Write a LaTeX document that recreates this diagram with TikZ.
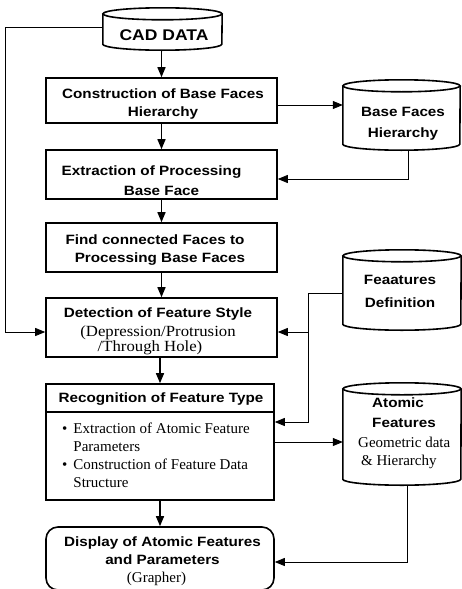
\documentclass[tikz,border=0pt]{standalone}
\usepackage{fontspec}
\setmainfont{Liberation Serif}
\newfontfamily\hvb[FakeStretch=1.13]{Liberation Sans Bold}
\newfontfamily\tmsw[FakeStretch=1.08]{Liberation Serif}
\usetikzlibrary{arrows.meta}

% bold sans heading text and serif detail text
\newcommand\bsf{\hvb\fontsize{13.5}{18}\selectfont}
\newcommand\rmt{\rmfamily\fontsize{15}{18}\selectfont}
\newcommand\rmw{\tmsw\fontsize{15.5}{14}\selectfont}

% storage drum drawn around an empty node: #1 node, #2 half width, #3 ellipse radius
\newcommand\drum[3]{%
  \draw[drumline] ([yshift=-#3]#1.north west) -- ([yshift=#3]#1.south west)
     arc[start angle=180, end angle=360, x radius=#2, y radius=#3]
     -- ([yshift=-#3]#1.north east);
  \draw[drumline] ([yshift=-#3]#1.north) ellipse[x radius=#2, y radius=#3];}

\tikzset{
  box/.style={draw, line width=1.6pt, inner sep=0pt, minimum width=231pt},
  store/.style={draw=none, inner sep=0pt},
  drumline/.style={line width=1.6pt},
  txt/.style={inner sep=0pt, anchor=north, align=center},
  flow/.style={line width=1.5pt, -{Triangle[length=10pt,width=8pt]}},
  link/.style={line width=0.8pt, -{Triangle[length=10pt,width=8pt]}},
}

\begin{document}
\begin{tikzpicture}[x=1pt, y=-1pt]
\path[fill=white] (0,0) rectangle (462,589);
\useasboundingbox (0,0) rectangle (462,589);

% process boxes
\node[box, minimum height=45pt] (cons)  at (161.5,100.5) {};
\node[box, minimum height=49pt] (extr)  at (161.5,174.5) {};
\node[box, minimum height=49pt] (find)  at (161.5,247.5) {};
\node[box, minimum height=59pt] (det)   at (161.5,327.5) {};
\node[box, minimum width=228pt, minimum height=116pt] (recog) at (160,442) {};
\draw[line width=1.6pt] ([yshift=-29pt]recog.north west) -- ([yshift=-29pt]recog.north east);
\node[box, minimum width=228pt, minimum height=63pt, rounded corners=12pt] (disp) at (160,558.5) {};

% data stores
\node[store, minimum width=119pt, minimum height=42pt]  (cad)  at (162.5,29) {};
\node[store, minimum width=117pt, minimum height=70pt]  (bfh)  at (401.5,115) {};
\node[store, minimum width=118pt, minimum height=80pt]  (fdef) at (402,290) {};
\node[store, minimum width=118pt, minimum height=102pt] (atom) at (402,434) {};
\drum{cad}{59.5pt}{6pt}
\drum{bfh}{58.5pt}{6pt}
\drum{fdef}{59pt}{6pt}
\drum{atom}{59pt}{6pt}

% texts
\node[txt, font=\hvb\fontsize{15.5}{18}\selectfont] (cadT) at (164,29.5) {CAD DATA};
\node[txt, font=\bsf] (consT) at (163,89) {Construction of Base Faces\\Hierarchy};
\node[txt, font=\hvb\fontsize{13.5}{20}\selectfont] (extrT) at (161.5,166) {Extraction of Processing\hspace*{20pt}\\Base Face};
\node[txt, font=\hvb\fontsize{13.5}{17.5}\selectfont] (findT) at (160,235) {Find connected Faces to\hspace*{10pt}\\Processing Base Faces};
\node[txt, font=\hvb\fontsize{13.5}{18}\selectfont] (detT) at (158,308)
  {Detection of Feature Style\\[1pt]{\rmw (Depression/Protrusion\hspace*{18pt}}\\[-3.5pt]{\rmw /Through Hole)\hspace*{16pt}}};
\node[txt, font=\bsf] (recogT) at (161,393) {Recognition of Feature Type};
\node[inner sep=0pt, anchor=north west, font=\rmt] (recogL) at (62,421)
  {\begin{tabular}{@{}l@{\hspace{6pt}}l@{}}
   \textbullet & Extraction of Atomic Feature\\
               & Parameters\\
   \textbullet & Construction of Feature Data\\
               & Structure
   \end{tabular}};
\node[txt, font=\bsf] (dispT) at (162.5,537) {Display of Atomic Features\\and Parameters\\{\rmt (Grapher)\hspace*{12pt}}};
\node[txt, font=\hvb\fontsize{13.5}{21}\selectfont] (bfhT) at (403,107) {Base Faces\\Hierarchy};
\node[txt, font=\hvb\fontsize{13.5}{23}\selectfont] (fdefT) at (400,275) {Feaatures\\Definition};
\node[inner sep=0pt, anchor=north west, align=left, font=\hvb\fontsize{13.5}{20}\selectfont] (atomT) at (358,398)
  {\hspace*{14pt}Atomic\\\hspace*{14pt}Features\\{\rmt Geometric data}\\[-2pt]{\rmt\hspace*{3pt}\& Hierarchy}};

% main flow
\draw[flow] (cons.north |- cad.south) -- (cons.north);
\draw[flow] (cons.south) -- (extr.north);
\draw[flow] (extr.south) -- (find.north);
\draw[flow] (find.south) -- (det.north);
\draw[flow] (det.south -| recog.north) -- (recog.north);
\draw[flow] (recog.south) -- (disp.north);

% side links
\coordinate (lp) at (5,332);
\draw[link] ([yshift=2pt]cad.west) -| (lp) -- (lp -| det.west);
\draw[link] ([yshift=-4.5pt]cons.east) -- ([yshift=-4.5pt]cons.east -| bfh.west);
\draw[link] ([xshift=6.5pt]bfh.south) |- ([yshift=-4.5pt]extr.east);
\coordinate (fk) at (308,293);
\coordinate (fb) at (308,332);
\draw[link] ([yshift=-3pt]fdef.west) -- (fk) |- ([yshift=20pt]recog.east);
\draw[link] (fb) -- (fb -| det.east);
\draw[link] (recog.east) -- (recog.east -| atom.west);
\draw[link] ([xshift=5pt]atom.south) |- ([yshift=-3.5pt]disp.east);
\end{tikzpicture}
\end{document}
